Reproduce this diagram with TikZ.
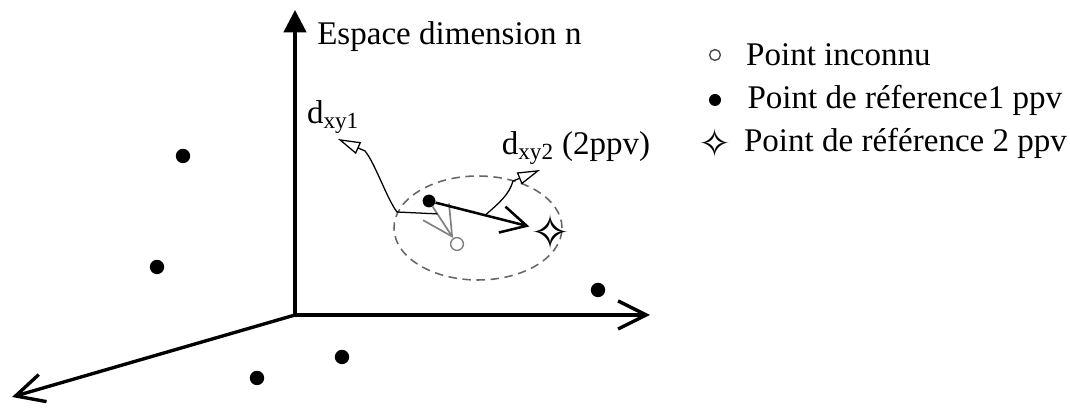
\documentclass[tikz,border=0pt]{standalone}
\usepackage{fontspec}
\setmainfont{Liberation Serif}
\newfontfamily\symfont{DejaVu Sans}
\usetikzlibrary{positioning, calc, arrows.meta}

\begin{document}
\begin{tikzpicture}[
        % Style definitions
        axis/.style={
            line width=2.4pt
        },
        refpt/.style={
            circle,
            fill=black,
            inner sep=0pt,
            minimum size=0.36cm
        },
        unkpt/.style={
            circle,
            draw=gray,
            line width=1pt,
            fill=white,
            inner sep=0pt,
            minimum size=0.32cm
        },
        starpt/.style={
            inner sep=0pt,
            font=\symfont\fontsize{34}{34}\selectfont
        },
        arrow/.style={
            -{Straight Barb[length=18pt, width=19pt]},
            line width=1.8pt
        },
        leader/.style={
            -{Triangle[open, length=16pt, width=9pt]},
            line width=0.9pt
        },
        lbl/.style={
            font=\fontsize{23.5}{28}\selectfont,
            inner sep=0pt
        }
    ]

        \useasboundingbox (-7.375,-2.325) rectangle (19.375,7.875);

        % ==========================================
        % Axes
        % ==========================================
        \coordinate (O) at (0,0);
        \coordinate (ytip) at (0,7.625);
        \coordinate (xtip) at (8.875,0);
        \coordinate (ztip) at (-7.075,-2.05);

        \draw [axis, -{Triangle[length=16pt, width=16pt]}] (O) -- (ytip);
        \draw [axis, -{Straight Barb[length=20pt, width=20pt]}] (O) -- (xtip);
        \draw [axis, -{Straight Barb[length=20pt, width=20pt]}] (O) -- (ztip);

        % Axis label
        \node (space) [lbl, anchor=west] at (0.55,6.95) {Espace dimension n};

        % ==========================================
        % Points
        % ==========================================
        % Reference points spread in the space
        \node (p1) [refpt] at (-2.8,3.975) {};
        \node (p2) [refpt] at (-3.45,1.2) {};
        \node (p3) [refpt] at (7.575,0.625) {};
        \node (p4) [refpt] at (1.175,-1.05) {};
        \node (p5) [refpt] at (-0.95,-1.575) {};

        % Neighbourhood of the unknown point
        \draw [gray!80!black, line width=1.1pt, dash pattern=on 6pt off 4pt]
            (4.575,2.175) ellipse [x radius=2.1cm, y radius=1.3cm];

        \node (ref1) [refpt, minimum size=0.32cm] at (3.35,2.85) {};
        \node (unk) [unkpt] at (4.05,1.775) {};
        \node (ref2) [starpt] at (6.4,2.075) {✧};

        % ==========================================
        % Distances
        % ==========================================
        \draw [arrow, gray, line width=1.2pt, -{Straight Barb[length=21pt, width=22pt]}] (ref1) -- (unk);
        \draw [arrow, shorten >=1pt] (ref1) -- (ref2);

        % Leader lines to the distance labels
        \coordinate (m1) at ($(ref1)!0.3!(unk)$);
        \coordinate (h1) at (1.075,4.4);
        \coordinate (m2) at ($(ref1)!0.46!(ref2)$);
        \coordinate (h2) at (6.125,3.625);

        \draw [leader] (m1) -- (2.55,2.575) .. controls (2.3,2.9) and (2.0,3.8) .. (1.75,4.1) -- (h1);
        \draw [leader] (m2) .. controls (5.1,2.8) and (5.35,3.0) .. (5.45,3.35) -- (h2);

        \node (d1) [lbl] at (0.95,4.95) {d\textsubscript{xy1}};
        \node (d2) [lbl] at (7.025,4.175) {d\textsubscript{xy2} (2ppv)};

        % ==========================================
        % Legend
        % ==========================================
        \node (lgunk) [unkpt, draw=black!70, minimum size=0.27cm] at (10.5,6.5) {};
        \node (lgref1) [refpt, minimum size=0.3cm] at (10.5,5.375) {};
        \node (lgref2) [starpt, font=\symfont\fontsize{28}{28}\selectfont] at (10.5,4.3) {✧};

        \node (txunk) [lbl, right=0.62cm of lgunk] {Point inconnu};
        \node (txref1) [lbl, right=0.65cm of lgref1] {Point de réference1 ppv};
        \node (txref2) [lbl, right=0.3cm of lgref2] {Point de référence 2 ppv};

    \end{tikzpicture}
\end{document}
